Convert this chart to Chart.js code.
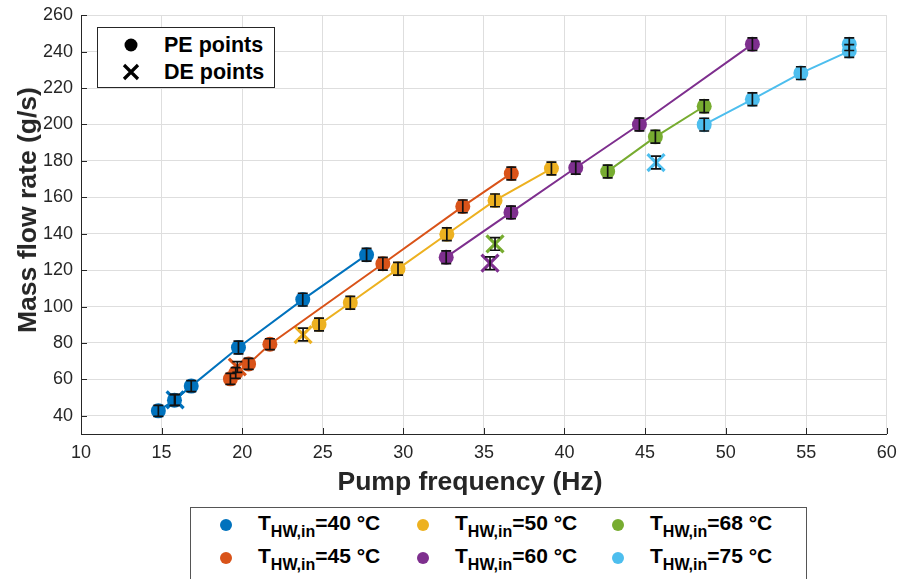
<!DOCTYPE html>
<html><head><meta charset="utf-8">
<script src="https://cdn.jsdelivr.net/npm/chart.js@4"></script>
<style>
body{margin:0;background:#fff;width:902px;height:579px;overflow:hidden;position:relative;font-family:"Liberation Sans",Arial,sans-serif;color:#000}
#c{position:absolute;left:0;top:0}
#topLeg{position:absolute;left:97px;top:27px;width:178px;height:61px;border:1px solid #262626;background:#fff;box-sizing:border-box}
.tl{position:absolute;left:66px;font-weight:bold;font-size:21.5px;line-height:22px}
#botLeg{position:absolute;left:190px;top:507px;width:617px;height:90px;border:1.5px solid #555;background:#fff;box-sizing:border-box}
.bi{position:absolute;font-weight:bold;font-size:21px;line-height:21px;white-space:nowrap}
.bi sub{font-size:16px;vertical-align:-7px;line-height:0}
.dot{position:absolute;width:12px;height:12px;border-radius:50%}
.axt{position:absolute;font-weight:bold;font-size:26.5px;line-height:28px;color:#262626;white-space:nowrap}
#xt{left:470px;top:467px;transform:translateX(-50%)}
#yt{left:27px;top:210px;transform:translate(-50%,-50%) rotate(-90deg)}
</style></head>
<body>
<canvas id="c" width="902" height="500"></canvas>
<div class="axt" id="xt">Pump frequency (Hz)</div>
<div class="axt" id="yt">Mass flow rate (g/s)</div>
<div id="topLeg">
  <svg style="position:absolute;left:0;top:0" width="176" height="59">
    <circle cx="33" cy="17" r="6.5" fill="#000"/>
    <path d="M26 37 L40 51 M40 37 L26 51" stroke="#000" stroke-width="3.2"/>
  </svg>
  <div class="tl" style="top:6px">PE points</div>
  <div class="tl" style="top:33px">DE points</div>
</div>
<div id="botLeg"></div>
<script>
// ---- data ----
const xTicks = [10,15,20,25,30,35,40,45,50,55,60];
const yTicks = [40,60,80,100,120,140,160,180,200,220,240,260];
const seriesNames = ["40","45","50","60","68","75"];

const pe40Freq = [14.8, 15.8, 16.84, 19.77, 23.76, 27.72];
const pe40Flow = [42.7, 48.6, 56.3, 77.5, 103.8, 128.4];
const pe40Err  = [3, 3, 3, 3.5, 3.5, 3.5];
const de40Freq = [15.84];
const de40Flow = [48.8];
const de40Err  = [3];

const pe45Freq = [19.27, 19.6, 20.4, 21.72, 28.73, 33.69, 36.7];
const pe45Flow = [60.3, 63.5, 68.5, 79.3, 123.5, 155.0, 173.1];
const pe45Err  = [3, 3, 3, 3, 3.5, 3.5, 3.5];
const de45Freq = [19.7];
const de45Flow = [66.8];
const de45Err  = [3];

const pe50Freq = [24.77, 26.71, 29.67, 32.7, 35.69, 39.19];
const pe50Flow = [90.1, 102.1, 120.7, 139.7, 158.3, 175.8];
const pe50Err  = [3.5, 3.5, 3.5, 3.5, 3.5, 3.5];
const de50Freq = [23.78];
const de50Flow = [84.6];
const de50Err  = [3.5];

const pe60Freq = [32.66, 36.68, 40.7, 44.65, 51.66];
const pe60Flow = [127.1, 151.7, 176.2, 200.0, 244.1];
const pe60Err  = [3.5, 3.5, 3.5, 3.5, 3.5];
const de60Freq = [35.38];
const de60Flow = [123.8];
const de60Err  = [3.5];

const pe68Freq = [42.68, 45.64, 48.67];
const pe68Flow = [174.2, 193.2, 210.0];
const pe68Err  = [3.5, 3.5, 3.5];
const de68Freq = [35.69];
const de68Flow = [134.4];
const de68Err  = [3.5];

const pe75Freq = [48.67, 51.66, 54.67, 57.67, 57.67];
const pe75Flow = [199.9, 213.8, 228.2, 240.3, 244.1];
const pe75Err  = [3.5, 3.5, 3.5, 3.5, 3.5];
const de75Freq = [45.68];
const de75Flow = [179.1];
const de75Err  = [3.5];

const colors = ["#0072BD","#D95319","#EDB120","#7E2F8E","#77AC30","#4DBEEE"];

const peSets = [[pe40Freq,pe40Flow,pe40Err],[pe45Freq,pe45Flow,pe45Err],[pe50Freq,pe50Flow,pe50Err],[pe60Freq,pe60Flow,pe60Err],[pe68Freq,pe68Flow,pe68Err],[pe75Freq,pe75Flow,pe75Err]];
const deSets = [[de40Freq,de40Flow,de40Err],[de45Freq,de45Flow,de45Err],[de50Freq,de50Flow,de50Err],[de60Freq,de60Flow,de60Err],[de68Freq,de68Flow,de68Err],[de75Freq,de75Flow,de75Err]];

const pts = (xs,ys)=>xs.map((v,i)=>({x:v,y:ys[i]}));
const datasets = [];
peSets.forEach((s,i)=>datasets.push({data:pts(s[0],s[1]),err:s[2],showLine:true,borderColor:colors[i],backgroundColor:colors[i],
  borderWidth:2,pointRadius:7.5,pointBorderWidth:0,pointStyle:'circle'}));
deSets.forEach((s,i)=>datasets.push({data:pts(s[0],s[1]),err:s[2],showLine:false,borderColor:colors[i],backgroundColor:colors[i],
  pointRadius:12,pointBorderWidth:3.2,pointStyle:'crossRot'}));

const errPlugin = {id:'err', afterDatasetsDraw(chart){
  const ctx=chart.ctx, xs=chart.scales.x, ys=chart.scales.y;
  ctx.save(); ctx.strokeStyle='#111'; ctx.lineWidth=1.7;
  chart.data.datasets.forEach(ds=>{
    ds.data.forEach((p,j)=>{
      const px=xs.getPixelForValue(p.x), e=ds.err[j];
      const y1=ys.getPixelForValue(p.y-e), y2=ys.getPixelForValue(p.y+e);
      ctx.beginPath(); ctx.moveTo(px,y1); ctx.lineTo(px,y2);
      ctx.moveTo(px-5,y1); ctx.lineTo(px+5,y1);
      ctx.moveTo(px-5,y2); ctx.lineTo(px+5,y2); ctx.stroke();
    });
  });
  ctx.restore();
}};
const tickPlugin = {id:'inticks', afterDraw(chart){
  const ctx=chart.ctx, a=chart.chartArea, xs=chart.scales.x, ys=chart.scales.y;
  ctx.save(); ctx.strokeStyle='#262626'; ctx.lineWidth=1;
  ctx.beginPath();
  yTicks.forEach(v=>{const y=Math.round(ys.getPixelForValue(v))+0.5; ctx.moveTo(a.left,y); ctx.lineTo(a.left+6,y);});
  xTicks.forEach(v=>{const x=Math.round(xs.getPixelForValue(v))+0.5; ctx.moveTo(x,a.bottom); ctx.lineTo(x,a.bottom-6);});
  ctx.stroke(); ctx.restore();
}};

new Chart(document.getElementById('c'), {
  type:'scatter',
  data:{datasets},
  plugins:[errPlugin,tickPlugin],
  options:{
    responsive:false, animation:false,
    layout:{padding:{top:13,right:12,left:0,bottom:0}},
    plugins:{legend:{display:false},tooltip:{enabled:false}},
    scales:{
      x:{type:'linear',min:10,max:60,
        afterBuildTicks:s=>{s.ticks=xTicks.map(v=>({value:v}));},
        afterFit:s=>{s.height=66; s.paddingLeft=0; s.paddingRight=0;},
        grid:{color:'#dedede',lineWidth:1,drawTicks:false},
        border:{display:true,color:'#262626',width:1},
        ticks:{padding:8,color:'#262626',font:{family:'Liberation Sans',size:18}}
      },
      y:{type:'linear',min:30,max:260,
        afterBuildTicks:s=>{s.ticks=yTicks.map(v=>({value:v}));},
        afterFit:s=>{s.width=81; s.paddingTop=0; s.paddingBottom=0;},
        grid:{color:'#dedede',lineWidth:1,drawTicks:false},
        border:{display:true,color:'#262626',width:1},
        ticks:{padding:8,color:'#262626',font:{family:'Liberation Sans',size:18}}
      }
    }
  }
});

// bottom legend (HTML, real text)
const leg = document.getElementById('botLeg');
const dotX = [35, 232, 427];
const txtX = [67, 264, 459];
const rowY = [17, 50];
const order = [[0,2,4],[1,3,5]];
order.forEach((row,r)=>row.forEach((si,c)=>{
  const d=document.createElement('div'); d.className='dot';
  d.style.left=(dotX[c]-6)+'px'; d.style.top=(rowY[r]-6)+'px'; d.style.background=colors[si];
  leg.appendChild(d);
  const t=document.createElement('div'); t.className='bi';
  t.style.left=txtX[c]+'px'; t.style.top=(rowY[r]-13)+'px';
  t.innerHTML='T<sub>HW,in</sub>='+seriesNames[si]+' °C';
  leg.appendChild(t);
}));
</script>
</body></html>
